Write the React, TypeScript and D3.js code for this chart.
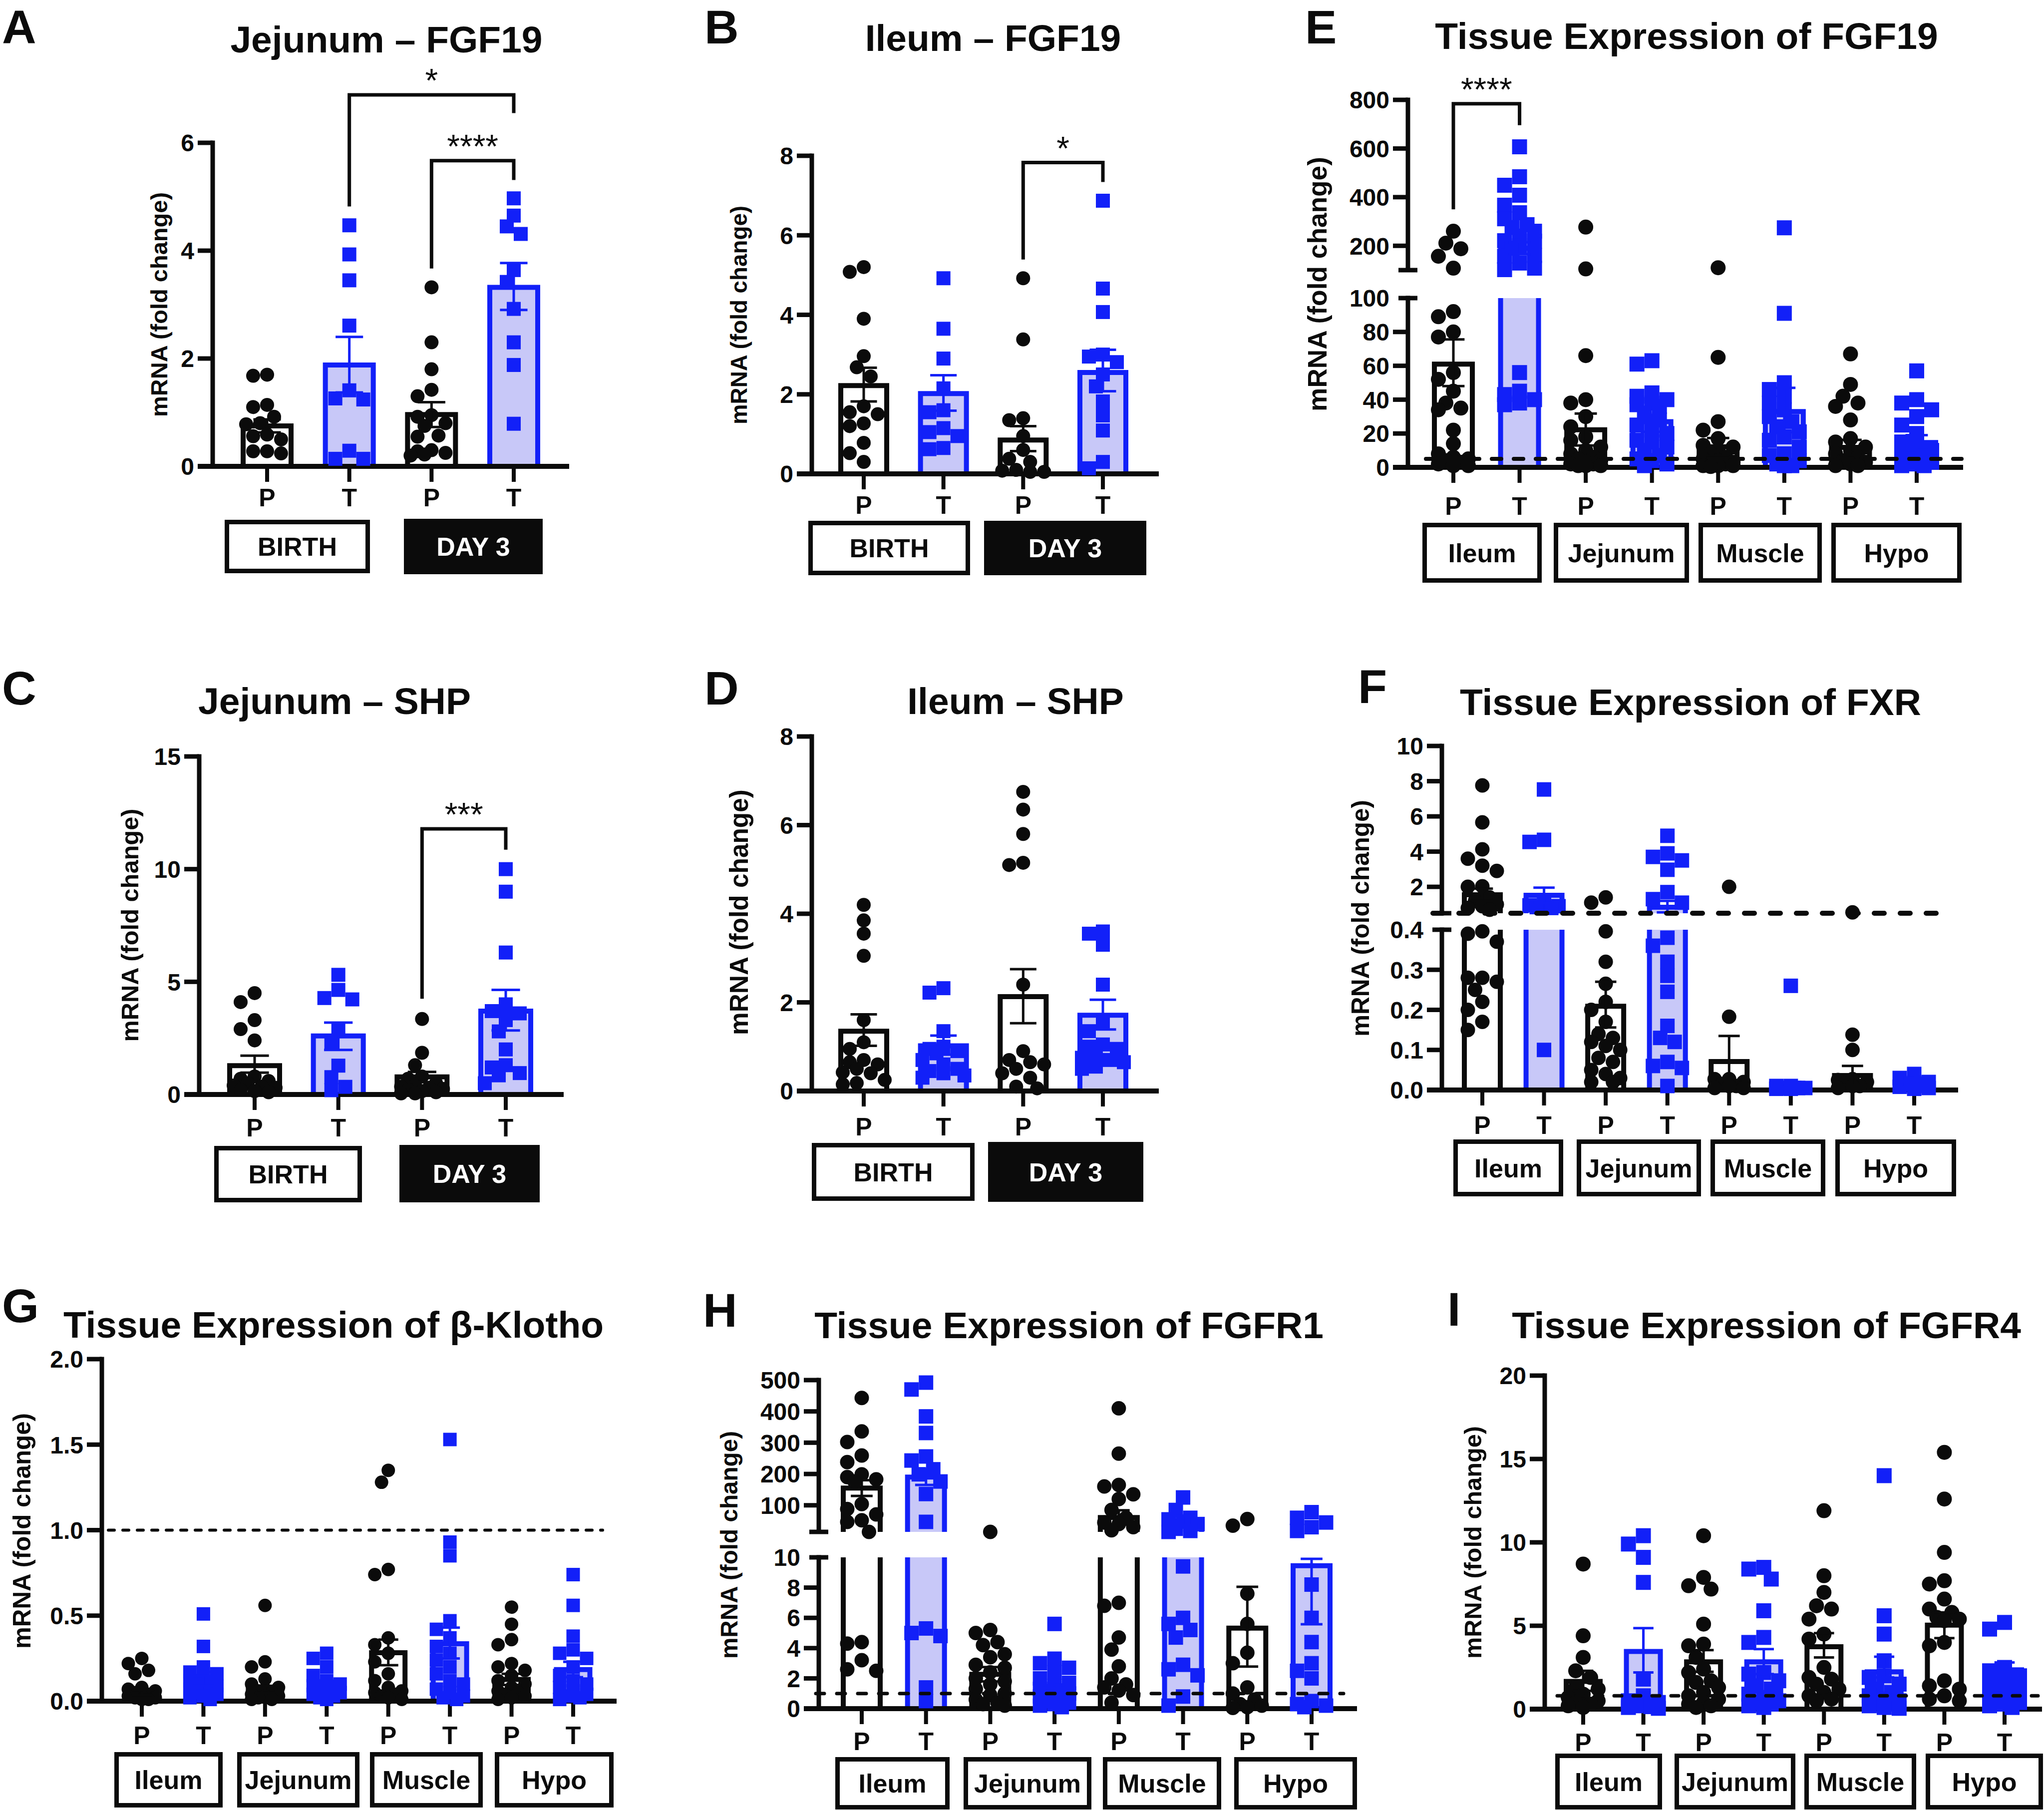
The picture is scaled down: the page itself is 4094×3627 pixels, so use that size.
import React from "react";
import * as d3 from "d3";

const W = 4094;
const H = 3627;
const FONT = "'Liberation Sans', Arial, Helvetica, sans-serif";
const BLUE = "#1220F8";
const LAV = "#C8C8F8";
const INK = "#0B0B0B";

// ---------- categories ----------
const conditions = ["P", "T"];
const timepoints = ["BIRTH", "DAY 3"];
const tissues = ["Ileum", "Jejunum", "Muscle", "Hypo"];

// ---------- Panel A : Jejunum – FGF19 ----------
const A_pts = [
  [1.7, 1.68, 1.14, 1.1, 0.92, 0.8, 0.78, 0.59, 0.56, 0.5, 0.28, 0.28, 0.24],
  [4.47, 3.93, 3.45, 2.61, 1.41, 1.26, 1.24, 0.29, 0.14, 0.14],
  [3.32, 2.3, 1.8, 1.42, 1.3, 0.95, 0.92, 0.8, 0.75, 0.57, 0.55, 0.3, 0.28, 0.25, 0.22, 0.2],
  [4.97, 4.65, 4.45, 4.31, 3.64, 3.42, 2.92, 2.3, 1.88, 0.79],
];
const A_mean = [0.75, 1.88, 0.96, 3.32];
const A_err = [[0.63, 0.87], [1.37, 2.4], [0.73, 1.19], [2.9, 3.77]];

// ---------- Panel B : Ileum – FGF19 ----------
const B_pts = [
  [5.2, 5.08, 3.9, 2.96, 2.68, 2.45, 1.7, 1.55, 1.5, 1.27, 1.2, 0.78, 0.52, 0.3],
  [4.92, 3.65, 2.9, 2.15, 1.6, 1.55, 1.15, 1.05, 0.95, 0.65, 0.62],
  [4.92, 3.38, 1.4, 1.35, 0.95, 0.6, 0.38, 0.3, 0.1, 0.08, 0.05, 0.05],
  [6.87, 4.66, 4.07, 3.0, 2.95, 2.81, 2.5, 2.2, 1.82, 1.47, 1.09, 0.3, 0.14],
];
const B_mean = [2.22, 2.02, 0.85, 2.55];
const B_err = [[1.82, 2.67], [1.59, 2.48], [0.57, 1.2], [2.08, 3.12]];

// ---------- Panel C : Jejunum – SHP ----------
const C_pts = [
  [4.5, 4.1, 3.3, 2.9, 2.4, 0.8, 0.7, 0.6, 0.5, 0.4, 0.35, 0.3, 0.2, 0.15, 0.1],
  [5.31, 4.64, 4.28, 4.22, 2.84, 2.3, 1.28, 0.77, 0.34, 0.19],
  [3.35, 1.85, 1.3, 0.8, 0.7, 0.5, 0.4, 0.35, 0.3, 0.25, 0.2, 0.15, 0.1, 0.05, 0.05],
  [10.0, 9.0, 6.3, 4.0, 3.7, 3.6, 3.3, 2.8, 2.0, 1.3, 1.2, 0.95, 0.85, 0.5],
];
const C_mean = [1.28, 2.6, 0.78, 3.7];
const C_err = [[0.97, 1.72], [1.98, 3.19], [0.55, 1.0], [2.84, 4.64]];

// ---------- Panel D : Ileum – SHP ----------
const D_pts = [
  [4.2, 3.85, 3.55, 3.05, 1.6, 1.1, 0.95, 0.7, 0.65, 0.6, 0.5, 0.42, 0.4, 0.25, 0.18, 0.15],
  [2.32, 2.22, 1.35, 1.0, 0.95, 0.9, 0.85, 0.7, 0.6, 0.5, 0.45, 0.4, 0.35, 0.3],
  [6.75, 6.35, 5.8, 5.15, 5.1, 2.4, 0.9, 0.7, 0.65, 0.6, 0.5, 0.4, 0.3, 0.1, 0.06],
  [3.6, 3.55, 3.3, 2.4, 1.55, 1.35, 1.05, 1.0, 0.95, 0.85, 0.75, 0.7, 0.65, 0.55, 0.5],
];
const D_mean = [1.35, 1.02, 2.13, 1.71];
const D_err = [[1.02, 1.73], [0.82, 1.25], [1.53, 2.75], [1.39, 2.06]];

// ---------- Panel E : Tissue Expression of FGF19 ----------
const E_pts = [
  [260, 211, 188, 157, 108, 92, 89, 80, 77, 56, 52, 45, 38, 35, 34, 22, 14, 8, 6, 5, 4, 3, 2, 1, 1],
  [607, 484, 449, 408, 367, 336, 311, 287, 275, 260, 240, 221, 219, 200, 190, 160, 157, 129, 108, 102, 56, 45, 43, 40, 38, 37],
  [277, 105, 66, 40, 38, 30, 24, 18, 16, 12, 10, 8, 6, 5, 4, 3, 2, 2, 1, 1, 1],
  [63, 61, 44, 42, 40, 38, 37, 36, 32, 28, 25, 22, 20, 16, 15, 12, 10, 7, 5, 4, 2, 1],
  [110, 65, 27, 22, 17, 13, 12, 10, 8, 6, 5, 4, 3, 2, 2, 1, 1, 1, 0.5],
  [274, 91, 50, 46, 42, 38, 34, 30, 27, 24, 21, 18, 16, 12, 8, 7, 4, 2, 1, 1],
  [67, 49, 42, 38, 36, 28, 17, 15, 12, 10, 8, 6, 4, 3, 2, 1, 1],
  [57, 40, 38, 34, 30, 25, 20, 15, 12, 10, 9, 8, 5, 3, 2, 1, 1],
];
const E_mean = [61, 190, 22.2, 27, 12.2, 33, 11.8, 14.7];
const E_err = [[48, 75.6], [165, 215], [12.9, 31.8], [21, 31], [7, 17.3], [20.7, 47], [7.4, 16.2], [10.4, 19]];

// ---------- Panel F : Tissue Expression of FXR ----------
const F_pts = [
  [7.76, 5.66, 4.13, 3.6, 3.2, 2.9, 2.03, 2.0, 1.4, 1.2, 1.0, 0.9, 0.8, 0.7, 0.396, 0.39, 0.37, 0.28, 0.28, 0.27, 0.25, 0.22, 0.2, 0.17, 0.15],
  [7.53, 4.67, 4.55, 1.0, 0.95, 0.9, 0.85, 0.8, 0.1],
  [1.4, 1.1, 0.396, 0.32, 0.265, 0.22, 0.2, 0.17, 0.14, 0.13, 0.12, 0.11, 0.1, 0.08, 0.07, 0.05, 0.04, 0.03, 0.02, 0.02],
  [4.9, 3.9, 3.7, 3.5, 2.97, 1.7, 1.3, 1.1, 0.38, 0.36, 0.32, 0.285, 0.245, 0.16, 0.13, 0.12, 0.07, 0.06, 0.055, 0.01],
  [2.0, 0.183, 0.027, 0.027, 0.02, 0.015, 0.01, 0.01, 0.005, 0.005],
  [0.26, 0.01, 0.01, 0.005, 0.005, 0.005, 0.003, 0.003],
  [0.55, 0.138, 0.1, 0.027, 0.025, 0.02, 0.015, 0.01, 0.01, 0.005],
  [0.04, 0.03, 0.02, 0.018, 0.015, 0.01, 0.008, 0.005, 0.003],
];
const F_mean = [1.55, 1.52, 0.209, 0.84, 0.071, 0.013, 0.036, 0.022];
const F_err = [[1.2, 1.9], [1.1, 1.95], [0.156, 0.27], [0.55, 1.2], [0.007, 0.135], [0.005, 0.02], [0.012, 0.06], [0.015, 0.03]];

// ---------- Panel G : Tissue Expression of β-Klotho ----------
const G_pts = [
  [0.25, 0.22, 0.18, 0.16, 0.08, 0.07, 0.06, 0.05, 0.04, 0.03, 0.03, 0.02, 0.02, 0.01, 0.01],
  [0.51, 0.32, 0.2, 0.17, 0.16, 0.14, 0.12, 0.11, 0.1, 0.09, 0.08, 0.07, 0.06, 0.05, 0.04, 0.03, 0.02, 0.01],
  [0.56, 0.23, 0.2, 0.13, 0.1, 0.08, 0.07, 0.06, 0.05, 0.04, 0.03, 0.03, 0.02, 0.01, 0.01],
  [0.28, 0.25, 0.2, 0.15, 0.12, 0.1, 0.09, 0.08, 0.07, 0.06, 0.05, 0.04, 0.03, 0.02, 0.01],
  [1.35, 1.28, 0.77, 0.74, 0.37, 0.33, 0.28, 0.23, 0.16, 0.12, 0.08, 0.06, 0.05, 0.04, 0.03, 0.02, 0.01],
  [1.53, 0.93, 0.85, 0.47, 0.42, 0.37, 0.32, 0.28, 0.24, 0.2, 0.16, 0.12, 0.1, 0.07, 0.05, 0.03, 0.02, 0.01],
  [0.55, 0.45, 0.36, 0.33, 0.22, 0.2, 0.18, 0.15, 0.12, 0.1, 0.08, 0.06, 0.05, 0.04, 0.03, 0.02, 0.01],
  [0.74, 0.56, 0.38, 0.3, 0.28, 0.25, 0.2, 0.15, 0.12, 0.1, 0.08, 0.06, 0.04, 0.03, 0.02, 0.01],
];
const G_mean = [0.05, 0.12, 0.07, 0.1, 0.283, 0.336, 0.127, 0.185];
const G_err = [[0.035, 0.065], [0.09, 0.15], [0.05, 0.09], [0.08, 0.12], [0.21, 0.36], [0.25, 0.43], [0.095, 0.16], [0.14, 0.23]];

// ---------- Panel H : Tissue Expression of FGFR1 ----------
const H_pts = [
  [443, 336, 302, 259, 238, 199, 190, 183, 176, 104, 88, 71, 52, 47, 15, 4.4, 4.3, 3.2, 2.6, 2.5],
  [492, 470, 384, 331, 256, 243, 215, 199, 176, 136, 47, 5.3, 5.0, 4.8, 1.4, 0.5],
  [15, 5.2, 5.0, 4.4, 4.2, 3.6, 3.4, 2.9, 2.7, 2.4, 2.0, 1.8, 1.6, 1.3, 1.0, 0.9, 0.6, 0.4, 0.3, 0.2],
  [5.6, 3.3, 3.0, 2.7, 2.4, 2.0, 1.7, 1.5, 1.3, 1.2, 1.1, 1.0, 0.9, 0.8, 0.7, 0.5, 0.4, 0.3, 0.2, 0.1],
  [410, 265, 165, 160, 135, 120, 85, 60, 45, 40, 30, 20, 7.0, 6.8, 4.7, 3.9, 2.8, 2.0, 1.6, 1.4, 1.2, 0.9, 0.4],
  [125, 85, 60, 55, 48, 40, 25, 18, 15, 9.4, 6.0, 5.6, 5.2, 4.7, 2.9, 2.6, 2.2, 0.8, 0.2],
  [56, 35, 7.6, 5.6, 3.7, 3.0, 1.4, 1.0, 0.6, 0.3, 0.2, 0.1, 0.05],
  [78, 60, 45, 30, 18, 8.2, 6.0, 4.4, 3.0, 2.5, 2.0, 0.5, 0.3, 0.2, 0.1],
];
const H_mean = [155, 190, 2.27, 1.28, 61, 50, 5.32, 9.45];
const H_err = [[130, 180], [165, 215], [1.8, 2.75], [1.0, 1.56], [38, 84], [35, 65], [2.78, 8.05], [5.58, 9.9]];

// ---------- Panel I : Tissue Expression of FGFR4 ----------
const I_pts = [
  [8.7, 4.4, 3.1, 2.3, 1.9, 1.3, 1.2, 0.9, 0.7, 0.5, 0.4, 0.3, 0.2, 0.1],
  [10.4, 9.9, 9.1, 7.6, 1.8, 0.8, 0.5, 0.4, 0.3, 0.2, 0.15, 0.1, 0.05],
  [10.4, 7.9, 7.4, 7.2, 5.1, 3.9, 3.8, 3.1, 2.4, 2.2, 1.7, 1.6, 1.3, 1.0, 0.8, 0.6, 0.4, 0.3, 0.2, 0.1],
  [8.5, 8.4, 7.8, 5.9, 4.3, 4.0, 2.2, 2.1, 1.7, 1.4, 1.2, 0.9, 0.7, 0.5, 0.4, 0.3, 0.2, 0.1],
  [11.9, 8.0, 7.0, 6.2, 6.0, 5.4, 4.5, 4.2, 2.5, 1.9, 1.8, 1.5, 1.2, 1.0, 0.8, 0.6, 0.5],
  [14.0, 5.6, 4.5, 2.9, 2.0, 1.9, 1.5, 1.2, 1.0, 0.8, 0.6, 0.5, 0.4, 0.3, 0.2, 0.1, 0.05],
  [15.4, 12.6, 9.4, 7.7, 7.5, 6.6, 6.0, 5.8, 5.5, 5.4, 5.3, 4.0, 3.8, 1.7, 1.4, 1.2, 0.8, 0.6, 0.5],
  [5.2, 4.8, 2.5, 2.3, 2.0, 1.8, 1.5, 1.2, 1.1, 1.0, 0.8, 0.6, 0.4, 0.3, 0.2, 0.1],
];
const I_mean = [1.66, 3.46, 2.84, 2.84, 3.74, 2.24, 5.04, 2.36];
const I_err = [[1.1, 2.3], [2.2, 4.86], [2.24, 3.54], [2.1, 3.6], [3.1, 4.56], [1.9, 3.14], [4.26, 5.8], [1.9, 2.8]];

// ---------- tick values ----------
const ticks0to6 = [0, 2, 4, 6];
const ticks0to8 = [0, 2, 4, 6, 8];
const ticks0to15 = [0, 5, 10, 15];
const ticksE_low = [0, 20, 40, 60, 80, 100];
const ticksE_up = [200, 400, 600, 800];
const ticksF_low = [0, 0.1, 0.2, 0.3, 0.4];
const ticksF_up = [2, 4, 6, 8, 10];
const ticksG = [0, 0.5, 1.0, 1.5, 2.0];
const ticksH_low = [0, 2, 4, 6, 8, 10];
const ticksH_up = [100, 200, 300, 400, 500];
const ticksI = [0, 5, 10, 15, 20];

// ---------- layout ----------
type Seg = { domain: [number, number]; range: [number, number]; ticks: number[]; digits: number; breakTop?: boolean; breakBottom?: boolean };
type Box = { x1: number; x2: number; y1: number; y2: number; filled: boolean };
type Bracket = { a: number; b: number; seg: number; top: number; legA: number; legB: number; label: string };
type Dashed = { seg: number; value: number; x1: number; x2: number; dash: string; w: number };
type Layout = {
  letter: string; letterX: number; letterY: number;
  title: string; titleX: number; titleY: number;
  axisX: number; xFirst: number; xLast: number; xEnd: number;
  barW: number; mark: number; labelDy: number;
  segs: Seg[];
  yTitle: [number, number, number];
  boxes: Box[];
  dashed?: Dashed;
  brackets?: Bracket[];
};

const boxesAB = (xs: [number, number][], y1: number, y2: number): Box[] =>
  xs.map((x, i) => ({ x1: x[0], x2: x[1], y1, y2, filled: i === 1 }));
const boxesT = (xs: [number, number][], y1: number, y2: number): Box[] =>
  xs.map((x) => ({ x1: x[0], x2: x[1], y1, y2, filled: false }));

const LA: Layout = {
  letter: "A", letterX: 4, letterY: 87, title: "Jejunum – FGF19", titleX: 774, titleY: 105,
  axisX: 426, xFirst: 535, xLast: 1029, xEnd: 1140, barW: 106, mark: 28, labelDy: 80,
  segs: [{ domain: [0, 6], range: [934, 286], ticks: ticks0to6, digits: 0 }],
  yTitle: [319, 610, 452],
  boxes: [{ x1: 450, x2: 741, y1: 1041, y2: 1148, filled: false }, { x1: 809, x2: 1087, y1: 1039, y2: 1150, filled: true }],
  brackets: [
    { a: 1, b: 3, seg: 0, top: 6.89, legA: 4.82, legB: 6.55, label: "*" },
    { a: 2, b: 3, seg: 0, top: 5.67, legA: 3.67, legB: 5.31, label: "****" },
  ],
};
const LB: Layout = {
  letter: "B", letterX: 1411, letterY: 87, title: "Ileum – FGF19", titleX: 1989, titleY: 102,
  axisX: 1626, xFirst: 1730, xLast: 2209, xEnd: 2321, barW: 102, mark: 28, labelDy: 80,
  segs: [{ domain: [0, 8], range: [949, 312], ticks: ticks0to8, digits: 0 }],
  yTitle: [1480, 631, 440],
  boxes: boxesAB([[1619, 1943], [1971, 2296]], 1043, 1152),
  brackets: [{ a: 2, b: 3, seg: 0, top: 7.83, legA: 5.39, legB: 7.34, label: "*" }],
};
const LE: Layout = {
  letter: "E", letterX: 2614, letterY: 87, title: "Tissue Expression of FGF19", titleX: 3378, titleY: 98,
  axisX: 2820, xFirst: 2911, xLast: 3839, xEnd: 3932, barW: 86, mark: 30, labelDy: 95,
  segs: [
    { domain: [0, 100], range: [936, 597], ticks: ticksE_low, digits: 0, breakTop: true },
    { domain: [100, 800], range: [541, 200], ticks: ticksE_up, digits: 0, breakBottom: true },
  ],
  yTitle: [2638, 569, 512],
  boxes: boxesT([[2849, 3088], [3112, 3383], [3402, 3649], [3668, 3929]], 1047, 1167),
  dashed: { seg: 0, value: 5, x1: 2856, x2: 3929, dash: "19 25", w: 8 },
  brackets: [{ a: 0, b: 1, seg: 1, top: 784, legA: 350, legB: 696, label: "****" }],
};
const LC: Layout = {
  letter: "C", letterX: 4, letterY: 1411, title: "Jejunum – SHP", titleX: 670, titleY: 1430,
  axisX: 399, xFirst: 510, xLast: 1013, xEnd: 1129, barW: 110, mark: 28, labelDy: 84,
  segs: [{ domain: [0, 15], range: [2192, 1515], ticks: ticks0to15, digits: 0 }],
  yTitle: [260, 1853, 469],
  boxes: [{ x1: 429, x2: 725, y1: 2295, y2: 2408, filled: false }, { x1: 800, x2: 1081, y1: 2293, y2: 2408, filled: true }],
  brackets: [{ a: 2, b: 3, seg: 0, top: 11.79, legA: 4.25, legB: 10.86, label: "***" }],
};
const LD: Layout = {
  letter: "D", letterX: 1411, letterY: 1411, title: "Ileum – SHP", titleX: 2034, titleY: 1430,
  axisX: 1626, xFirst: 1730, xLast: 2209, xEnd: 2321, barW: 102, mark: 28, labelDy: 89,
  segs: [{ domain: [0, 8], range: [2185, 1475], ticks: ticks0to8, digits: 0 }],
  yTitle: [1480, 1827, 494],
  boxes: [{ x1: 1626, x2: 1952, y1: 2289, y2: 2405, filled: false }, { x1: 1979, x2: 2290, y1: 2287, y2: 2407, filled: true }],
};
const LF: Layout = {
  letter: "F", letterX: 2720, letterY: 1408, title: "Tissue Expression of FXR", titleX: 3386, titleY: 1432,
  axisX: 2888, xFirst: 2969, xLast: 3834, xEnd: 3922, barW: 82, mark: 29, labelDy: 88,
  segs: [
    { domain: [0, 0.4], range: [2183, 1862], ticks: ticksF_low, digits: 1, breakTop: true },
    { domain: [0.5, 10], range: [1829, 1494], ticks: ticksF_up, digits: 0, breakBottom: true },
  ],
  yTitle: [2725, 1839, 476],
  boxes: boxesT([[2911, 3131], [3158, 3407], [3426, 3656], [3676, 3918]], 2282, 2396),
  dashed: { seg: 1, value: 0.5, x1: 2870, x2: 3890, dash: "20 32", w: 10 },
};
const LG: Layout = {
  letter: "G", letterX: 4, letterY: 2648, title: "Tissue Expression of β-Klotho", titleX: 668, titleY: 2679,
  axisX: 204, xFirst: 284, xLast: 1148, xEnd: 1235, barW: 77, mark: 27, labelDy: 86,
  segs: [{ domain: [0, 2], range: [3407, 2722], ticks: ticksG, digits: 1 }],
  yTitle: [44, 3066, 474],
  boxes: boxesT([[229, 446], [475, 720], [741, 967], [991, 1229]], 3509, 3620),
  dashed: { seg: 0, value: 1, x1: 217, x2: 1207, dash: "12 17", w: 6 },
};
const LH: Layout = {
  letter: "H", letterX: 1408, letterY: 2657, title: "Tissue Expression of FGFR1", titleX: 2141, titleY: 2680,
  axisX: 1640, xFirst: 1726, xLast: 2627, xEnd: 2718, barW: 84, mark: 29, labelDy: 83,
  segs: [
    { domain: [0, 10], range: [3422, 3119], ticks: ticksH_low, digits: 0, breakTop: true },
    { domain: [15, 500], range: [3068, 2764], ticks: ticksH_up, digits: 0, breakBottom: true },
  ],
  yTitle: [1460, 3094, 458],
  boxes: boxesT([[1673, 1902], [1930, 2186], [2209, 2446], [2472, 2718]], 3519, 3624),
  dashed: { seg: 0, value: 1, x1: 1634, x2: 2691, dash: "17 25", w: 7 },
};
const LI: Layout = {
  letter: "I", letterX: 2899, letterY: 2655, title: "Tissue Expression of FGFR4", titleX: 3538, titleY: 2680,
  axisX: 3094, xFirst: 3171, xLast: 4015, xEnd: 4090, barW: 78, mark: 30, labelDy: 84,
  segs: [{ domain: [0, 20], range: [3423, 2755], ticks: ticksI, digits: 0 }],
  yTitle: [2950, 3089, 468],
  boxes: boxesT([[3115, 3329], [3354, 3596], [3614, 3838], [3857, 4092]], 3512, 3624),
  dashed: { seg: 0, value: 0.8, x1: 3119, x2: 4082, dash: "15 23", w: 7 },
};

const TICK = 30;
const AXW = 9;
const BSW = 10;
const ERRW = 5;

function swarm(ys: number[], cx: number, d: number, maxOff: number): number[] {
  const placed: { x: number; y: number }[] = [];
  const step = d * 0.5;
  const minDist = d * 0.9;
  const cands: number[] = [0];
  for (let k = 1; k * step <= maxOff + 1e-6; k++) cands.push(-k * step, k * step);
  return ys.map((y) => {
    let best = 0;
    let bestScore = -Infinity;
    for (const off of cands) {
      let mind = Infinity;
      for (const p of placed) {
        const dd = Math.hypot(p.x - off, p.y - y);
        if (dd < mind) mind = dd;
      }
      if (mind >= minDist) { best = off; break; }
      if (mind > bestScore + 0.5) { bestScore = mind; best = off; }
    }
    placed.push({ x: best, y });
    return cx + best;
  });
}

function Panel({ L, pts, mean, err, cats, groups }: { L: Layout; pts: number[][]; mean: number[]; err: number[][]; cats: string[]; groups: string[] }) {
  const n = pts.length;
  const xs = d3.scalePoint<number>().domain(d3.range(n)).range([L.xFirst, L.xLast]);
  const scales = L.segs.map((s) => d3.scaleLinear().domain(s.domain).range(s.range));
  const segOf = (v: number) => (L.segs.length === 1 ? 0 : v <= L.segs[0].domain[1] ? 0 : 1);
  const yOf = (v: number) => {
    const i = segOf(v);
    const s = L.segs[i];
    return scales[i](Math.max(s.domain[0], Math.min(s.domain[1], v)));
  };
  const y0 = scales[0](0);
  const els: React.ReactNode[] = [];
  let key = 0;
  const k = () => key++;

  // bars
  for (let g = 0; g < n; g++) {
    const cx = xs(g)!;
    const isT = g % 2 === 1;
    const col = isT ? BLUE : INK;
    const xl = cx - L.barW / 2 + BSW / 2;
    const xr = cx + L.barW / 2 - BSW / 2;
    L.segs.forEach((s, si) => {
      const m = mean[g];
      if (si > 0 && m <= s.domain[0]) return;
      const top = Math.min(m, s.domain[1]);
      const yb = si === 0 ? y0 : scales[si](s.domain[0]);
      const yt = scales[si](top);
      const closed = m <= s.domain[1];
      els.push(<rect key={k()} x={xl} y={yt} width={xr - xl} height={Math.max(0, yb - yt)} fill={isT ? LAV : "#fff"} />);
      const d = closed ? `M${xl},${yb} V${yt} H${xr} V${yb}` : `M${xl},${yb} V${yt} M${xr},${yt} V${yb}`;
      els.push(<path key={k()} d={d} fill="none" stroke={col} strokeWidth={BSW} strokeLinejoin="miter" />);
    });
  }

  // axes
  L.segs.forEach((s, si) => {
    const sc = scales[si];
    els.push(<line key={k()} x1={L.axisX} x2={L.axisX} y1={s.range[0]} y2={s.range[1] - AXW / 2} stroke={INK} strokeWidth={AXW} />);
    const fmt = d3.format(`.${s.digits}f`);
    s.ticks.forEach((t) => {
      const y = sc(t);
      const isBreakTop = s.breakTop && t === s.domain[1];
      if (!(si === 0 && t === 0)) {
        if (isBreakTop) {
          els.push(<line key={k()} x1={L.axisX - 19} x2={L.axisX + 19} y1={y} y2={y} stroke={INK} strokeWidth={AXW} />);
        } else {
          els.push(<line key={k()} x1={L.axisX - TICK} x2={L.axisX} y1={y} y2={y} stroke={INK} strokeWidth={AXW} />);
        }
      }
      els.push(
        <text key={k()} x={L.axisX - TICK - 7} y={y} dy="0.36em" textAnchor="end" fontSize={48} fontWeight="bold" fill={INK}>
          {fmt(t)}
        </text>
      );
    });
    if (s.breakBottom) {
      const y = s.range[0];
      els.push(<line key={k()} x1={L.axisX - 19} x2={L.axisX + 19} y1={y} y2={y} stroke={INK} strokeWidth={AXW} />);
    }
    if (s.breakTop && !s.ticks.includes(s.domain[1])) {
      const y = s.range[1];
      els.push(<line key={k()} x1={L.axisX - 19} x2={L.axisX + 19} y1={y} y2={y} stroke={INK} strokeWidth={AXW} />);
    }
  });
  // baseline
  els.push(<line key={k()} x1={L.axisX - TICK} x2={L.xEnd} y1={y0} y2={y0} stroke={INK} strokeWidth={AXW + 1} />);
  // category ticks + labels
  for (let g = 0; g < n; g++) {
    const cx = xs(g)!;
    els.push(<line key={k()} x1={cx} x2={cx} y1={y0} y2={y0 + 31} stroke={INK} strokeWidth={8} />);
    els.push(
      <text key={k()} x={cx} y={y0 + L.labelDy} textAnchor="middle" fontSize={50} fontWeight="bold" fill={INK}>
        {cats[g]}
      </text>
    );
  }

  // points
  for (let g = 0; g < n; g++) {
    const cx = xs(g)!;
    const isT = g % 2 === 1;
    const ys = pts[g].map(yOf);
    const pxs = swarm(ys, cx, L.mark, L.barW * 0.42);
    pts[g].forEach((_, j) => {
      if (isT) {
        els.push(<rect key={k()} x={pxs[j] - L.mark / 2} y={ys[j] - L.mark / 2} width={L.mark} height={L.mark} fill={BLUE} />);
      } else {
        els.push(<circle key={k()} cx={pxs[j]} cy={ys[j]} r={L.mark / 2} fill={INK} />);
      }
    });
  }

  // error bars
  for (let g = 0; g < n; g++) {
    const cx = xs(g)!;
    const col = g % 2 === 1 ? BLUE : INK;
    const si = segOf(mean[g]);
    const s = L.segs[si];
    const sc = scales[si];
    const [lo, hi] = err[g];
    const cw = L.barW * 0.26;
    const ylo = sc(Math.max(lo, s.domain[0]));
    const yhi = sc(Math.min(hi, s.domain[1]));
    els.push(<line key={k()} x1={cx} x2={cx} y1={ylo} y2={yhi} stroke={col} strokeWidth={ERRW} />);
    if (lo >= s.domain[0]) els.push(<line key={k()} x1={cx - cw} x2={cx + cw} y1={ylo} y2={ylo} stroke={col} strokeWidth={ERRW} />);
    if (hi <= s.domain[1]) els.push(<line key={k()} x1={cx - cw} x2={cx + cw} y1={yhi} y2={yhi} stroke={col} strokeWidth={ERRW} />);
  }

  // dashed reference
  if (L.dashed) {
    const dl = L.dashed;
    const y = scales[dl.seg](dl.value);
    els.push(<line key={k()} x1={dl.x1} x2={dl.x2} y1={y} y2={y} stroke={INK} strokeWidth={dl.w} strokeDasharray={dl.dash} strokeLinecap="round" />);
  }

  // brackets
  (L.brackets || []).forEach((b) => {
    const sc = scales[b.seg];
    const xa = xs(b.a)!;
    const xb = xs(b.b)!;
    const yt = sc(b.top);
    els.push(<path key={k()} d={`M${xa},${sc(b.legA)} V${yt} H${xb} V${sc(b.legB)}`} fill="none" stroke={INK} strokeWidth={7} />);
    els.push(
      <text key={k()} x={(xa + xb) / 2} y={yt - 6} textAnchor="middle" fontSize={66} fill={INK}>
        {b.label}
      </text>
    );
  });

  // group boxes
  L.boxes.forEach((bx, i) => {
    els.push(
      <rect key={k()} x={bx.x1 + 4.5} y={bx.y1 + 4.5} width={bx.x2 - bx.x1 - 9} height={bx.y2 - bx.y1 - 9}
        fill={bx.filled ? INK : "#fff"} stroke={INK} strokeWidth={9} />
    );
    els.push(
      <text key={k()} x={(bx.x1 + bx.x2) / 2} y={(bx.y1 + bx.y2) / 2} dy="0.36em" textAnchor="middle" fontSize={52}
        fontWeight="bold" fill={bx.filled ? "#fff" : INK}>
        {groups[i]}
      </text>
    );
  });

  // y title
  const [tx, ty, tl] = L.yTitle;
  els.push(
    <text key={k()} transform={`translate(${tx},${ty}) rotate(-90)`} dy="0.35em" textAnchor="middle" fontSize={tl / 9.611}
      fontWeight="bold" fill={INK}>
      mRNA (fold change)
    </text>
  );
  // title & letter
  els.push(
    <text key={k()} x={L.titleX} y={L.titleY} textAnchor="middle" fontSize={75} fontWeight="bold" fill={INK}>
      {L.title}
    </text>
  );
  els.push(
    <text key={k()} x={L.letterX} y={L.letterY} fontSize={95} fontWeight="bold" fill={INK}>
      {L.letter}
    </text>
  );

  return <g>{els}</g>;
}

const catsAB = timepoints.flatMap(() => conditions);
const catsT = tissues.flatMap(() => conditions);

export default function App() {
  return (
    <svg width={W} height={H} viewBox={`0 0 ${W} ${H}`} style={{ position: "absolute", left: 0, top: 0, background: "#fff" }}
      fontFamily={FONT}>
      <rect x={0} y={0} width={W} height={H} fill="#fff" />
      <Panel L={LA} pts={A_pts} mean={A_mean} err={A_err} cats={catsAB} groups={timepoints} />
      <Panel L={LB} pts={B_pts} mean={B_mean} err={B_err} cats={catsAB} groups={timepoints} />
      <Panel L={LE} pts={E_pts} mean={E_mean} err={E_err} cats={catsT} groups={tissues} />
      <Panel L={LC} pts={C_pts} mean={C_mean} err={C_err} cats={catsAB} groups={timepoints} />
      <Panel L={LD} pts={D_pts} mean={D_mean} err={D_err} cats={catsAB} groups={timepoints} />
      <Panel L={LF} pts={F_pts} mean={F_mean} err={F_err} cats={catsT} groups={tissues} />
      <Panel L={LG} pts={G_pts} mean={G_mean} err={G_err} cats={catsT} groups={tissues} />
      <Panel L={LH} pts={H_pts} mean={H_mean} err={H_err} cats={catsT} groups={tissues} />
      <Panel L={LI} pts={I_pts} mean={I_mean} err={I_err} cats={catsT} groups={tissues} />
    </svg>
  );
}
